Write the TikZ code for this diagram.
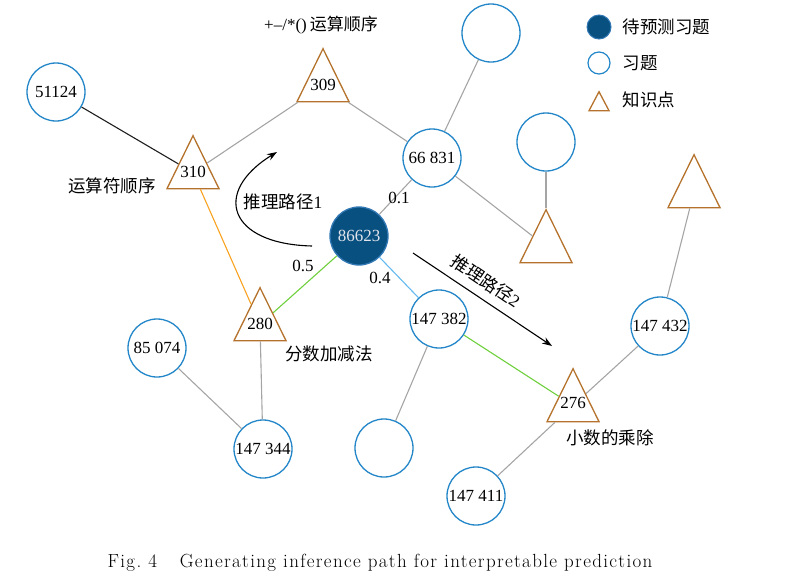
\documentclass[tikz,border=0pt]{standalone}
\usepackage{fontspec}
\newfontfamily\numfont{Liberation Serif}
\newfontfamily\cjk{Noto Sans CJK SC}
\newfontfamily\capfont[LetterSpace=7]{Latin Modern Roman}
\usetikzlibrary{shapes.geometric,arrows.meta}
\definecolor{exblue}{RGB}{34,134,200}
\definecolor{tgfill}{RGB}{8,80,128}
\definecolor{tgline}{RGB}{50,120,180}
\definecolor{kbrown}{RGB}{180,114,44}
\definecolor{eorange}{RGB}{248,162,32}
\definecolor{egreen}{RGB}{110,208,60}
\definecolor{elblue}{RGB}{100,185,240}
\definecolor{egray}{RGB}{165,165,165}
\tikzset{
  exer/.style={circle, draw=exblue, line width=1.3pt, minimum size=58pt, inner sep=0pt},
  target/.style={circle, draw=tgline, fill=tgfill, line width=1.3pt, minimum size=58pt, inner sep=0pt, text={rgb,255:red,225;green,228;blue,235}},
  know/.style={isosceles triangle, isosceles triangle stretches, shape border rotate=90, draw=kbrown, line width=1.3pt, minimum width=52pt, minimum height=53pt, inner sep=0pt, anchor=apex},
  cn/.style={font=\cjk\fontsize{17.5}{20}\selectfont},
  link/.style={line width=1.1pt, draw=egray},
  pathto/.style={line width=1.1pt, -{Stealth[length=10pt,width=7pt]}},
}
\begin{document}
\begin{tikzpicture}[x=1pt, y=-1pt, every node/.style={font=\numfont\fontsize{17}{20}\selectfont}]
  \useasboundingbox (0,0) rectangle (802,581);
  % exercises
  \node[target] (t86623) at (359,236) {86623};
  \node[exer] (e51124) at (56,92) {51124};
  \node[exer] (e66831) at (432,158) {66 831};
  \node[exer] (etop) at (491,33) {};
  \node[exer] (eright) at (546,142) {};
  \node[exer] (e85074) at (157,348) {85 074};
  \node[exer] (e147344) at (263,449) {147 344};
  \node[exer] (ebottom) at (384,448) {};
  \node[exer] (e147382) at (439,319) {147 382};
  \node[exer] (e147432) at (660,326) {147 432};
  \node[exer] (e147411) at (476,496) {147 411};
  % knowledge points
  \node[know] (k310) at (193,134) {};
  \node[know] (k309) at (323,47) {};
  \node[know] (k280) at (260,286) {};
  \node[know] (kmid) at (546,208) {};
  \node[know] (kright) at (694,153) {};
  \node[know] (k276) at (573,367) {};
  \node (n310) at (193,172) {310};
  \node (n309) at (323,85) {309};
  \node (n280) at (260,324) {280};
  \node (n276) at (573,403) {276};
  \node (l309) at (321,25) {+–/*()\hspace{3pt}{\cjk 运算顺序}};
  \node[cn] (l310) at (112,186) {运算符顺序};
  \node[cn] (l280) at (329,354) {分数加减法};
  \node[cn] (l276) at (610,438) {小数的乘除};
  % links
  \draw[link, draw={rgb,255:red,30;green,30;blue,30}] (e51124) -- (k310);
  \draw[link] (k310) -- (k309);
  \draw[link] (k309) -- (e66831);
  \draw[link, draw=eorange] (k310) -- (k280);
  \draw[link] (t86623) -- (e66831);
  \draw[link, draw=egreen] (t86623) -- (k280);
  \draw[link, draw=elblue] (t86623) -- (e147382);
  \draw[link] (e66831) -- (etop);
  \draw[link] (e66831) -- (kmid);
  \draw[link] (eright) -- (kmid);
  \draw[link] (k280) -- (e147344);
  \draw[link] (e85074) -- (e147344);
  \draw[link] (e147382) -- (ebottom);
  \draw[link, draw=egreen] (e147382) -- (k276);
  \draw[link] (k276) -- (e147432);
  \draw[link] (k276) -- (e147411);
  \draw[link] (kright) -- (e147432);
  \node (w1) at (399,198) {0.1};
  \node (w5) at (303,266) {0.5};
  \node (w4) at (380,278) {0.4};
  % inference paths
  \coordinate (p1s) at (312,246); \coordinate (p1e) at (277,152);
  \coordinate (p2s) at (413,253); \coordinate (p2e) at (552,346);
  \draw[pathto] (p1s) .. controls (228,244) and (212,192) .. (p1e);
  \draw[pathto] (p2s) -- (p2e);
  \node[cn] (r1) at (283,202) {推理路径{\numfont 1}};
  \node[cn, rotate=-34, inner sep=0pt] (r2) at (486,281) {推理路径{\numfont 2}};
  % legend
  \node[circle, draw=tgline, fill=tgfill, line width=1pt, minimum size=24pt, inner sep=0pt] (g1) at (599,27) {};
  \node[circle, draw=exblue, line width=1.2pt, minimum size=22pt, inner sep=0pt] (g2) at (599,63) {};
  \node[know, minimum width=20pt, minimum height=19pt] (g3) at (599,90) {};
  \node[cn, anchor=west] (lg1) at (619,27) {待预测习题};
  \node[cn, anchor=west] (lg2) at (619,63) {习题};
  \node[cn, anchor=west] (lg3) at (619,100) {知识点};
  % caption
  \node[font=\capfont\fontsize{19}{21}\selectfont, anchor=base] (cap) at (380,567) {Fig.~4\hspace{1.2em}Generating inference path for interpretable prediction};
\end{tikzpicture}
\end{document}
